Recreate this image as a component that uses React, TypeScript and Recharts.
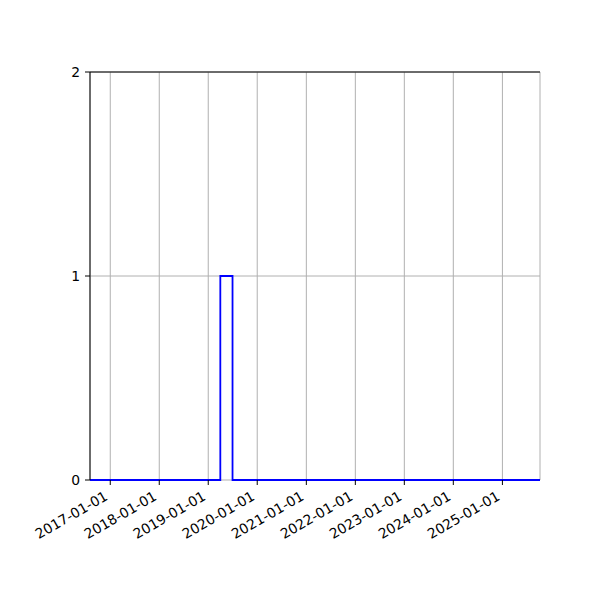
import React from "react";
import {
  LineChart,
  Line,
  XAxis,
  YAxis,
  CartesianGrid,
  ReferenceLine,
} from "recharts";

// quarterly bins, counts per bin
const binStarts = [
  "2016-07-01", "2016-10-01",
  "2017-01-01", "2017-04-01", "2017-07-01", "2017-10-01",
  "2018-01-01", "2018-04-01", "2018-07-01", "2018-10-01",
  "2019-01-01", "2019-04-01", "2019-07-01", "2019-10-01",
  "2020-01-01", "2020-04-01", "2020-07-01", "2020-10-01",
  "2021-01-01", "2021-04-01", "2021-07-01", "2021-10-01",
  "2022-01-01", "2022-04-01", "2022-07-01", "2022-10-01",
  "2023-01-01", "2023-04-01", "2023-07-01", "2023-10-01",
  "2024-01-01", "2024-04-01", "2024-07-01", "2024-10-01",
  "2025-01-01", "2025-04-01", "2025-07-01", "2025-10-01",
  "2026-01-01",
];
const counts = [
  0, 0,
  0, 0, 0, 0,
  0, 0, 0, 0,
  0, 1, 0, 0,
  0, 0, 0, 0,
  0, 0, 0, 0,
  0, 0, 0, 0,
  0, 0, 0, 0,
  0, 0, 0, 0,
  0, 0, 0, 0,
  0,
];
const xTickLabels = [
  "2017-01-01", "2018-01-01", "2019-01-01", "2020-01-01", "2021-01-01",
  "2022-01-01", "2023-01-01", "2024-01-01", "2025-01-01",
];
const yTicks = [0, 1, 2];
const xRange = ["2016-08-03", "2025-10-08"];

const ts = (s: string) => Date.parse(s + "T00:00:00Z");
const fmt = (t: number) => new Date(t).toISOString().slice(0, 10);

const data = binStarts.map((d, i) => ({ t: ts(d), count: counts[i] }));
const font = "DejaVu Sans, sans-serif";

function DateTick({ x, y, payload }: any) {
  return (
    <g transform={`translate(${x - 1.5},${y + 14})`}>
      <text
        x={0}
        y={0}
        textAnchor="end"
        transform="rotate(-30)"
        fontSize={13.9}
        fontFamily={font}
        fill="#000"
      >
        {fmt(payload.value)}
      </text>
    </g>
  );
}

export default function App() {
  return (
    <div style={{ position: "absolute", left: 0, top: 0, width: 600, height: 600, background: "#fff" }}>
      <LineChart
        width={600}
        height={600}
        data={data}
        margin={{ top: 72, right: 60, bottom: 40, left: 60 }}
      >
        <CartesianGrid stroke="#b0b0b0" strokeWidth={1} />
        <XAxis
          dataKey="t"
          type="number"
          domain={xRange.map(ts)}
          allowDataOverflow
          ticks={xTickLabels.map(ts)}
          tick={<DateTick />}
          tickSize={5}
          tickMargin={0}
          height={80}
          stroke="#000"
          tickLine={{ stroke: "#000" }}
          axisLine={false}
          interval={0}
        />
        <YAxis
          domain={[0, 2]}
          ticks={yTicks}
          width={30}
          tickSize={5}
          tickMargin={5}
          tick={{ fontSize: 13.9, fontFamily: font, fill: "#000" }}
          tickLine={{ stroke: "#000" }}
          axisLine={{ stroke: "#000" }}
          interval={0}
        />
        <YAxis
          yAxisId="right"
          orientation="right"
          domain={[0, 2]}
          width={0}
          tick={false}
          tickLine={false}
          axisLine={{ stroke: "#000" }}
        />
        <ReferenceLine y={2} stroke="#000" />
        <Line
          type="stepAfter"
          dataKey="count"
          stroke="#0000ff"
          strokeWidth={1.8}
          dot={false}
          isAnimationActive={false}
        />
      </LineChart>
    </div>
  );
}
